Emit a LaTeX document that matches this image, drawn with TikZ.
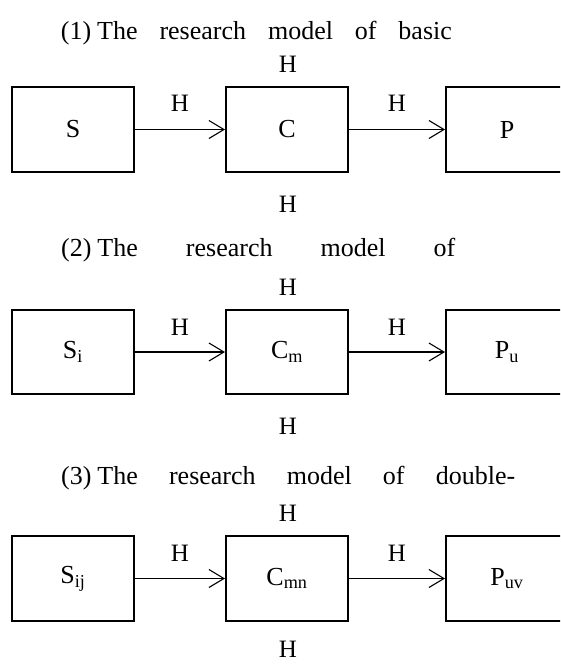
\documentclass[tikz,border=0pt]{standalone}
\usepackage{fontspec}
\setmainfont{Liberation Serif}
\usetikzlibrary{arrows.meta}
\begin{document}
\begin{tikzpicture}[x=1pt,y=-1pt,
  box/.style={draw, line width=2pt, minimum width=122pt, minimum height=84.5pt, inner sep=0pt, font=\fontsize{26}{30}\selectfont},
  lbl/.style={inner sep=0pt, font=\fontsize{25}{29}\selectfont},
  ttl/.style={inner sep=0pt, anchor=base west, font=\fontsize{26}{30}\selectfont},
  arr/.style={line width=1.1pt, -{Straight Barb[length=15pt,width=18pt]}}]
\useasboundingbox (0,0) rectangle (560,664);
\clip (0,0) rectangle (560,664);
% Panel 1
\node[ttl] (t1) at (60.7,39) {\makebox[391pt][s]{(1)\hspace{6pt}The research model of basic}};
\node[box] (s1) at (73,129.5) {S};
\node[box] (c1) at (287,129.5) {C};
\node[box] (p1) at (507,129.5) {P};
\draw[arr] (s1) -- (c1);
\draw[arr] (c1) -- (p1);
\node[lbl] (h1a) at (180,103) {H};
\node[lbl] (h1b) at (397,103) {H};
\node[lbl] (h1t) at (288,64) {H};
\node[lbl] (h1d) at (288,204) {H};
% Panel 2
\node[ttl] (t2) at (61,256) {\makebox[394pt][s]{(2)\hspace{6pt}The research model of}};
\node[box] (s2) at (73,352) {S\textsubscript{i}};
\node[box] (c2) at (287,352) {C\textsubscript{m}};
\node[box] (p2) at (507,352) {P\textsubscript{u}};
\draw[arr] (s2) -- (c2);
\draw[arr] (c2) -- (p2);
\node[lbl] (h2a) at (180,327) {H};
\node[lbl] (h2b) at (397,327) {H};
\node[lbl] (h2t) at (288,287) {H};
\node[lbl] (h2d) at (288,426) {H};
% Panel 3
\node[ttl] (t3) at (61,484) {\makebox[454pt][s]{(3)\hspace{6pt}The research model of double-}};
\node[box] (s3) at (73,578.5) {S\textsubscript{ij}};
\node[box] (c3) at (287,578.5) {C\textsubscript{mn}};
\node[box] (p3) at (507,578.5) {P\textsubscript{uv}};
\draw[arr] (s3) -- (c3);
\draw[arr] (c3) -- (p3);
\node[lbl] (h3a) at (180,553) {H};
\node[lbl] (h3b) at (397,553) {H};
\node[lbl] (h3t) at (288,513.5) {H};
\node[lbl] (h3d) at (288,649) {H};
\end{tikzpicture}
\end{document}
